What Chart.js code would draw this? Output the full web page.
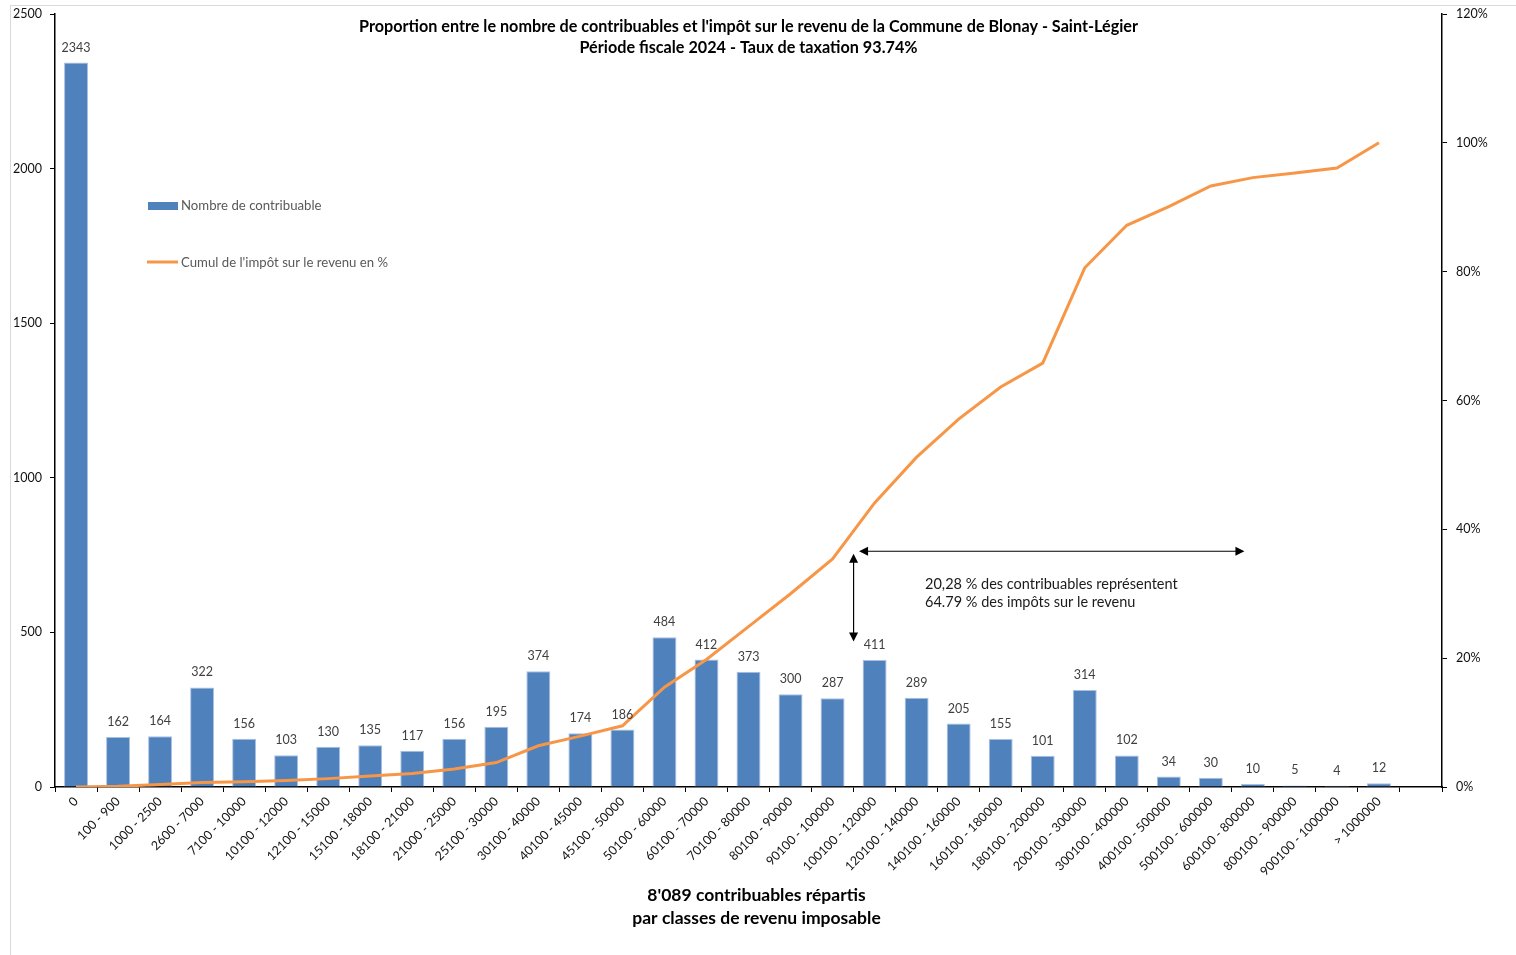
<!DOCTYPE html>
<html>
<head>
<meta charset="utf-8">
<script src="https://cdn.jsdelivr.net/npm/chart.js@4.4.0/dist/chart.umd.min.js"></script>
<style>
  html, body { margin: 0; padding: 0; background: #fff; overflow: hidden; }
  #frame { position: absolute; left: 10px; top: 5px; width: 1520px; height: 960px; border: 1px solid #d9d9d9; }
  #chart { position: absolute; left: 0; top: 0; }
</style>
</head>
<body>
<div id="frame"></div>
<canvas id="chart" width="1516" height="955"></canvas>
<script>
// classes de revenu imposable
var classes = ['0', '100 - 900', '1000 - 2500', '2600 - 7000', '7100 - 10000', '10100 - 12000',
  '12100 - 15000', '15100 - 18000', '18100 - 21000', '21000 - 25000', '25100 - 30000',
  '30100 - 40000', '40100 - 45000', '45100 - 50000', '50100 - 60000', '60100 - 70000',
  '70100 - 80000', '80100 - 90000', '90100 - 100000', '100100 - 120000', '120100 - 140000',
  '140100 - 160000', '160100 - 180000', '180100 - 200000', '200100 - 300000', '300100 - 400000',
  '400100 - 500000', '500100 - 600000', '600100 - 800000', '800100 - 900000', '900100 - 1000000',
  '> 1000000', ''];

var contribuables = [2343, 162, 164, 322, 156, 103, 130, 135, 117, 156, 195, 374, 174, 186, 484,
  412, 373, 300, 287, 411, 289, 205, 155, 101, 314, 102, 34, 30, 10, 5, 4, 12, null];

// cumul en %
var cumulImpot = [0, 0.1, 0.4, 0.7, 0.8, 1.0, 1.3, 1.7, 2.1, 2.8, 3.8, 6.4, 7.9, 9.5, 15.5,
  19.8, 24.9, 30.0, 35.4, 44.1, 51.2, 57.1, 62.1, 65.8, 80.6, 87.2, 90.1, 93.3, 94.6, 95.3,
  96.1, 100, null];

var leftTicks = [0, 500, 1000, 1500, 2000, 2500];
var rightTicks = [0, 20, 40, 60, 80, 100, 120];

var titleLines = ["Proportion entre le nombre de contribuables et l'impôt sur le revenu de la Commune de Blonay - Saint-Légier",
  'Période fiscale 2024 - Taux de taxation 93.74%'];
var axisTitle = ["8'089 contribuables répartis", 'par classes de revenu imposable'];
var noteLines = ['20,28 % des contribuables représentent', '64.79 % des impôts sur le revenu'];

var blue = '#4f81bd';
var orange = '#f79646';
var font = 'Lato';

function arrowHead(ctx, x, y, angle) {
  ctx.save();
  ctx.translate(x, y);
  ctx.rotate(angle);
  ctx.beginPath();
  ctx.moveTo(0, 0);
  ctx.lineTo(-9, -4.5);
  ctx.lineTo(-9, 4.5);
  ctx.closePath();
  ctx.fill();
  ctx.restore();
}

var extras = {
  id: 'extras',
  afterDatasetsDraw: function(chart) {
    var ctx = chart.ctx;
    var x = chart.scales.x, y = chart.scales.y, yr = chart.scales.yr;
    ctx.save();

    // valeurs au-dessus des barres
    var meta = chart.getDatasetMeta(0);
    ctx.fillStyle = '#404040';
    ctx.font = '12.5px ' + font;
    ctx.textAlign = 'center';
    ctx.textBaseline = 'middle';
    meta.data.forEach(function(bar, i) {
      if (contribuables[i] == null) return;
      ctx.fillText(contribuables[i], bar.x, bar.y - 15);
    });

    // titre
    ctx.fillStyle = '#000';
    ctx.font = 'bold 16.2px ' + font;
    var cx = (chart.chartArea.left + chart.chartArea.right) / 2;
    ctx.fillText(titleLines[0], cx, 27);
    ctx.fillText(titleLines[1], cx, 48);

    // titre de l'axe x
    ctx.font = 'bold 17.5px ' + font;
    ctx.fillText(axisTitle[0], cx + 8, 895);
    ctx.fillText(axisTitle[1], cx + 8, 918);

    // légende
    ctx.textAlign = 'left';
    ctx.font = '13.2px ' + font;
    ctx.fillStyle = blue;
    ctx.fillRect(148, 202, 30, 8);
    ctx.strokeStyle = orange;
    ctx.lineWidth = 3;
    ctx.beginPath();
    ctx.moveTo(147, 262);
    ctx.lineTo(178, 262);
    ctx.stroke();
    ctx.fillStyle = '#595959';
    ctx.fillText('Nombre de contribuable', 181, 206);
    ctx.fillText("Cumul de l'impôt sur le revenu en %", 181, 263);

    // flèches
    ctx.strokeStyle = '#000';
    ctx.fillStyle = '#000';
    ctx.lineWidth = 1.2;
    var vx = x.getPixelForValue(18.5);
    var vTop = yr.getPixelForValue(36.2), vBot = yr.getPixelForValue(22.6);
    ctx.beginPath();
    ctx.moveTo(vx, vTop + 6);
    ctx.lineTo(vx, vBot - 6);
    ctx.stroke();
    arrowHead(ctx, vx, vTop, -Math.PI / 2);
    arrowHead(ctx, vx, vBot, Math.PI / 2);

    var hy = yr.getPixelForValue(36.6);
    var hL = x.getPixelForValue(18.63), hR = x.getPixelForValue(27.8);
    ctx.beginPath();
    ctx.moveTo(hL + 6, hy);
    ctx.lineTo(hR - 6, hy);
    ctx.stroke();
    arrowHead(ctx, hL, hy, Math.PI);
    arrowHead(ctx, hR, hy, 0);

    ctx.font = '14.5px ' + font;
    ctx.fillStyle = '#1a1a1a';
    var tx = x.getPixelForValue(20.2);
    ctx.fillText(noteLines[0], tx, yr.getPixelForValue(31.5));
    ctx.fillText(noteLines[1], tx, yr.getPixelForValue(28.6));

    ctx.restore();
  }
};

function noPad(s) { s.paddingTop = 0; s.paddingBottom = 0; }

var config = {
  type: 'bar',
  data: {
    labels: classes,
    datasets: [{
      type: 'bar',
      label: 'Nombre de contribuable',
      data: contribuables,
      yAxisID: 'y',
      backgroundColor: blue,
      borderColor: '#a9c1e0',
      borderWidth: { top: 1, left: 1, right: 1, bottom: 0 },
      barPercentage: 0.57,
      categoryPercentage: 1,
      order: 2
    }, {
      type: 'line',
      label: "Cumul de l'impôt sur le revenu en %",
      data: cumulImpot,
      yAxisID: 'yr',
      borderColor: orange,
      borderWidth: 3,
      pointRadius: 0,
      tension: 0,
      order: 1
    }]
  },
  options: {
    responsive: false,
    animation: false,
    layout: { padding: { left: 0, right: 0, top: 14, bottom: 26 } },
    plugins: {
      legend: { display: false },
      title: { display: false },
      tooltip: { enabled: false }
    },
    scales: {
      x: {
        offset: true,
        grid: { display: true, drawOnChartArea: false, tickLength: 5, color: '#000', offset: true },
        border: { color: '#000', width: 1.5 },
        ticks: {
          autoSkip: false, minRotation: 45, maxRotation: 45, padding: 2,
          color: '#111', font: { family: font, size: 12.5 }
        },
        afterFit: function(s) { s.height = 142; s.paddingLeft = 0; s.paddingRight = 0; }
      },
      y: {
        position: 'left',
        min: 0, max: 2500,
        afterBuildTicks: function(s) { s.ticks = leftTicks.map(function(v) { return { value: v }; }); },
        grid: { drawOnChartArea: false, tickLength: 5, color: '#000' },
        border: { color: '#000', width: 1.5 },
        ticks: {
          color: '#111', padding: 8, font: { family: font, size: 12.5 },
          callback: function(v) { return String(v); }
        },
        afterFit: function(s) { s.width = 55; noPad(s); }
      },
      yr: {
        position: 'right',
        min: 0, max: 120,
        afterBuildTicks: function(s) { s.ticks = rightTicks.map(function(v) { return { value: v }; }); },
        grid: { drawOnChartArea: false, tickLength: 5, color: '#000' },
        border: { color: '#000', width: 1.5 },
        ticks: {
          color: '#111', padding: 9, font: { family: font, size: 12.5 },
          callback: function(v) { return v + '%'; }
        },
        afterFit: function(s) { s.width = 74; noPad(s); }
      }
    }
  },
  plugins: [extras]
};

var chart = new Chart(document.getElementById('chart'), config);
</script>
</body>
</html>
